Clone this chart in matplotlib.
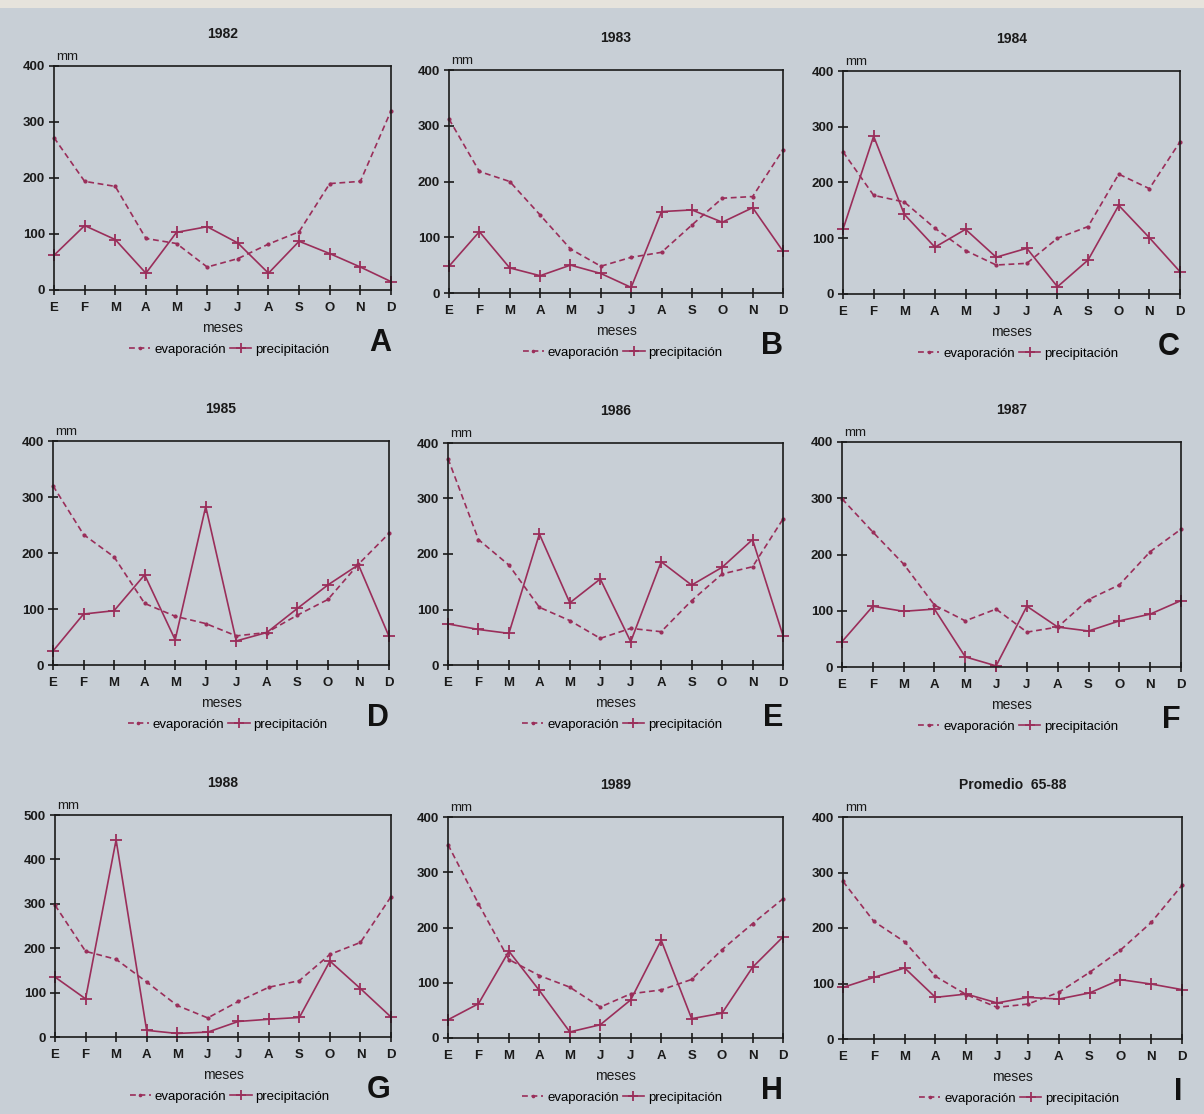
import matplotlib
matplotlib.use("Agg")
import matplotlib.pyplot as plt
from matplotlib.patches import Rectangle

plt.rcParams['font.family'] = ['Liberation Sans', 'DejaVu Sans']

months = ["E", "F", "M", "A", "M", "J", "J", "A", "S", "O", "N", "D"]

titles = ["1982", "1983", "1984", "1985", "1986", "1987", "1988", "1989", "Promedio  65-88"]
letters = ["A", "B", "C", "D", "E", "F", "G", "H", "I"]
ymax = [400, 400, 400, 400, 400, 400, 500, 400, 400]

evap_1982 = [272, 194, 185, 92, 83, 41, 56, 82, 104, 190, 194, 320]
prec_1982 = [62, 115, 90, 30, 103, 113, 84, 30, 87, 65, 41, 15]

evap_1983 = [312, 218, 200, 140, 79, 48, 64, 73, 122, 170, 173, 257]
prec_1983 = [48, 110, 45, 31, 50, 35, 10, 146, 149, 127, 153, 75]

evap_1984 = [255, 177, 165, 118, 78, 52, 55, 100, 121, 215, 189, 273]
prec_1984 = [116, 283, 143, 84, 116, 66, 82, 13, 61, 159, 101, 40]

evap_1985 = [320, 233, 193, 110, 87, 74, 52, 58, 89, 117, 180, 235]
prec_1985 = [25, 91, 97, 161, 45, 283, 43, 58, 101, 143, 179, 51]

evap_1986 = [372, 226, 180, 104, 80, 48, 66, 60, 116, 164, 177, 263]
prec_1986 = [74, 64, 57, 236, 112, 155, 42, 186, 144, 176, 226, 53]

evap_1987 = [299, 240, 183, 110, 82, 103, 62, 71, 120, 146, 205, 245]
prec_1987 = [45, 108, 99, 103, 18, 2, 108, 71, 64, 82, 94, 118]

evap_1988 = [297, 193, 175, 124, 71, 43, 80, 112, 127, 186, 213, 316]
prec_1988 = [135, 86, 444, 15, 8, 11, 35, 40, 44, 171, 109, 45]

evap_1989 = [350, 243, 142, 113, 92, 56, 80, 87, 106, 160, 207, 252]
prec_1989 = [33, 62, 157, 86, 11, 24, 69, 177, 35, 45, 128, 183]

evap_prom = [284, 212, 175, 113, 80, 57, 63, 84, 120, 160, 210, 277]
prec_prom = [93, 111, 128, 75, 81, 65, 75, 72, 83, 107, 99, 89]

evap_all = [evap_1982, evap_1983, evap_1984, evap_1985, evap_1986,
            evap_1987, evap_1988, evap_1989, evap_prom]
prec_all = [prec_1982, prec_1983, prec_1984, prec_1985, prec_1986,
            prec_1987, prec_1988, prec_1989, prec_prom]

W, H = 1204, 1114
# left, right, top, bottom in pixels
boxes = [(54, 391, 66, 290), (449, 783, 70, 293), (843, 1180, 71, 294),
         (53, 389, 441, 665), (448, 783, 443, 665), (842, 1181, 442, 667),
         (55, 391, 815, 1037), (448, 783, 817, 1038), (843, 1182, 817, 1039)]

bg = '#c8cfd6'
col = '#9a2e5a'

fig = plt.figure(figsize=(W / 100, H / 100), dpi=100, facecolor=bg)
fig.patches.append(Rectangle((0, 1 - 8 / H), 1, 8 / H, transform=fig.transFigure,
                             facecolor='#e6e3dc', edgecolor='none', zorder=0))

for i in range(9):
    l, r, t, b = boxes[i]
    hpx = b - t
    ax = fig.add_axes([l / W, 1 - b / H, (r - l) / W, hpx / H])
    ax.set_facecolor('none')
    x = list(range(12))
    ax.plot(x, evap_all[i], color=col, lw=1.2, ls=(0, (3.5, 2.2)),
            marker='.', ms=4, label='evaporación', clip_on=False)
    ax.plot(x, prec_all[i], color=col, lw=1.2, ls='-',
            marker='+', ms=9, mew=1.3, label='precipitación', clip_on=False)
    ax.set_xlim(0, 11)
    ax.set_ylim(0, ymax[i])
    ax.set_yticks(range(0, ymax[i] + 1, 100))
    ax.set_xticks(x)
    ax.set_xticklabels(months)
    for s in ax.spines.values():
        s.set_linewidth(1.2)
        s.set_color('#1a1a1a')
    ax.tick_params(axis='both', direction='inout', length=7, width=1.2,
                   labelsize=9.5, colors='#1a1a1a', pad=3)
    ax.tick_params(axis='x', pad=5)
    for lab in ax.get_xticklabels() + ax.get_yticklabels():
        lab.set_fontweight('bold')
    ax.set_title(titles[i], fontsize=10, fontweight='bold', pad=20, color='#1a1a1a')
    ax.text(0.005, 1.012, 'mm', transform=ax.transAxes, fontsize=9.5,
            ha='left', va='bottom', color='#1a1a1a')
    ax.set_xlabel('meses', fontsize=10, labelpad=5, color='#1a1a1a')
    ax.legend(loc='upper center', bbox_to_anchor=(0.52, -48 / hpx), ncol=2,
              frameon=False, fontsize=9.5, handlelength=1.6, handletextpad=0.3,
              columnspacing=0.3, borderaxespad=0, markerscale=0.8)
    ax.text(1.0, -53 / hpx, letters[i], transform=ax.transAxes, fontsize=22,
            fontweight='bold', ha='right', va='center', color='#111111')

fig.savefig('out.png', dpi=100, facecolor=bg)
